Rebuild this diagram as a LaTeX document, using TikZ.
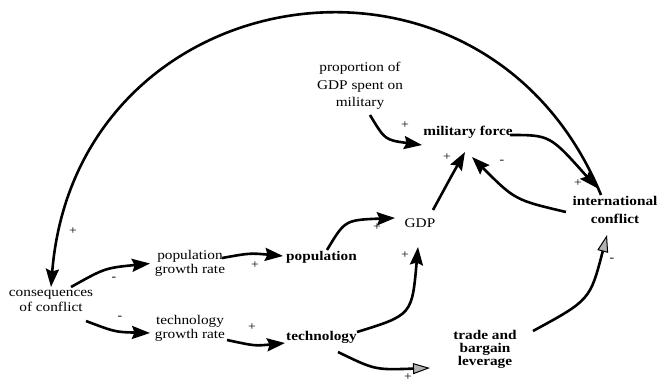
\documentclass[tikz,border=0pt]{standalone}
\usepackage{fontspec}
\setmainfont[FakeStretch=1.15]{Liberation Serif}
\usetikzlibrary{arrows.meta,calc}
\tikzset{
 lbl/.style={inner sep=0pt, align=center, font=\fontsize{13.3}{#1}\selectfont},
 lbl/.default=14,
 blbl/.style={inner sep=0pt, align=center, font=\fontsize{13.3}{#1}\selectfont\bfseries},
 blbl/.default=14,
 arr/.style={line width=2.6pt, -{Stealth[length=18pt,width=13pt,inset=2.5pt]}},
 garr/.style={line width=2.6pt, -{Triangle[length=17pt,width=11pt,fill=gray!60,line width=1pt]}},
 sgn/.style={inner sep=0pt, font=\fontsize{12}{13}\selectfont},
}
\begin{document}
\begin{tikzpicture}[x=1pt,y=-1pt]
\useasboundingbox (0,0) rectangle (657,384);
% nodes
\node[lbl=15] (cons) at (51,301) {consequences\\of conflict};
\node[lbl=13.5] (pgr) at (190,263.5) {population\\growth rate};
\node[lbl=14] (tgr) at (190,328) {technology\\growth rate};
\node[blbl] (pop) at (321.5,257) {population};
\node[blbl] (tech) at (321.5,337) {technology};
\node[lbl] (gdp) at (420,223) {GDP};
\node[lbl=17.5] (prop) at (360,86) {proportion of\\GDP spent on\\military};
\node[blbl] (mil) at (468,132) {military force};
\node[blbl=18] (intl) at (615,210) {international\\conflict};
\node[blbl=13] (trade) at (485,349) {trade and\\bargain\\leverage};
% connectors
\draw[arr] ($(cons)+(20,-14)$) .. controls (105,268) .. ($(pgr)+(-40,0)$);
\draw[arr] ($(cons)+(35,20)$) .. controls (115,332) .. ($(tgr)+(-40,5)$);
\draw[arr] ($(pgr)+(32,-5.5)$) .. controls (250,253) .. ($(pop)+(-38.5,-1)$);
\draw[arr] ($(tgr)+(37,12)$) .. controls (255,346) .. ($(tech)+(-36.5,6)$);
\draw[arr] ($(pop)+(5.5,-7)$) .. controls (345,220) .. ($(gdp)+(-25,-5)$);
\draw[arr] ($(tech)+(35.5,-5)$) .. controls (412,315) .. ($(gdp)+(-2,24)$);
\draw[garr] ($(tech)+(16.5,15)$) .. controls (375,370) .. ($(trade)+(-55,19)$);
\draw[garr] ($(trade)+(48,-18)$) .. controls (590,300) .. ($(intl)+(-8,25)$);
\draw[arr] ($(gdp)+(13,-13)$) .. controls (452,175) .. ($(mil)+(-3,20)$);
\draw[arr] ($(intl)+(-49,2)$) .. controls (515,200) .. ($(mil)+(4,25)$);
\draw[arr] ($(prop)+(10,29)$) .. controls (385,140) .. ($(mil)+(-46,13)$);
\draw[arr] ($(mil)+(42,3)$) .. controls (550,135) .. ($(intl)+(-18,-22)$);
\draw[arr] ($(intl)+(-14,-15)$) .. controls (483.6,-89.7) and (76,-25) .. ($(cons)+(0,-14)$);
% signs
\node[sgn] (s1) at (114,279) {-};
\node[sgn] (s2) at (120,318) {-};
\node[sgn] (s3) at (255,265) {+};
\node[sgn] (s4) at (252,327) {+};
\node[sgn] (s5) at (377,227) {+};
\node[sgn] (s6) at (405,255) {+};
\node[sgn] (s7) at (408,377) {+};
\node[sgn] (s8) at (612,260) {-};
\node[sgn] (s9) at (447,157) {+};
\node[sgn] (s10) at (502,162) {-};
\node[sgn] (s11) at (405,125) {+};
\node[sgn] (s12) at (578,183) {+};
\node[sgn] (s13) at (73,231) {+};
\end{tikzpicture}
\end{document}
